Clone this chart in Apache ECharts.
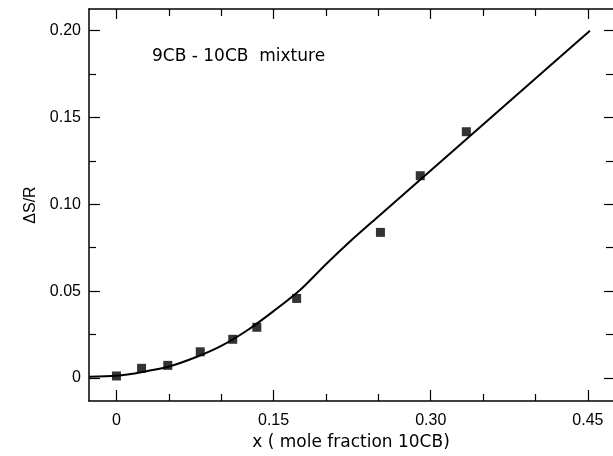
<!DOCTYPE html>
<html>
<head>
<meta charset="utf-8">
<script src="https://cdn.jsdelivr.net/npm/echarts@6/dist/echarts.min.js"></script>
<style>
html,body{margin:0;padding:0;background:#fff;}
#chart{width:613px;height:456px;}
</style>
</head>
<body>
<div id="chart"></div>
<script>
// ---- data ----
const pointX = [0, 0.024, 0.049, 0.080, 0.111, 0.134, 0.172, 0.252, 0.290, 0.334];
const pointY = [0.0012, 0.0056, 0.0073, 0.0151, 0.0223, 0.0292, 0.0458, 0.0838, 0.1164, 0.1417];
const curveX = [-0.026, 0, 0.025, 0.05, 0.075, 0.10, 0.125, 0.15, 0.175, 0.20, 0.225, 0.25, 0.275, 0.30, 0.325, 0.35, 0.375, 0.40, 0.425, 0.452];
const curveY = [0.0008, 0.0013, 0.0035, 0.0066, 0.0118, 0.0185, 0.0275, 0.0385, 0.0505, 0.0655, 0.0797, 0.093, 0.1062, 0.1194, 0.1326, 0.1459, 0.1591, 0.1723, 0.1855, 0.1998];
const xMajorTicks = [0, 0.15, 0.30, 0.45];
const xTickLabels = ['0', '0.15', '0.30', '0.45'];
const xMinorTicks = [0.05, 0.10, 0.20, 0.25, 0.35, 0.40];
const yMajorTicks = [0, 0.05, 0.10, 0.15, 0.20];
const yTickLabels = ['0', '0.05', '0.10', '0.15', '0.20'];
const yMinorTicks = [0.025, 0.075, 0.125, 0.175];
const xTitle = 'x ( mole fraction 10CB)';
const yTitle = 'ΔS/R';
const annotation = '9CB - 10CB  mixture';

const X_MIN = -0.0262, X_MAX = 0.474;
const Y_MIN = -0.0132, Y_MAX = 0.2123;
const FONT = 'Liberation Sans';
const FONT2 = 'DejaVu Sans';

function xAx(pos, ticks, len, show, extra) {
  return Object.assign({
    type: 'value', position: pos, min: X_MIN, max: X_MAX,
    axisLine: {show: show, onZero: false, lineStyle: {color: '#000', width: 1.5}},
    splitLine: {show: false},
    axisTick: {show: true, inside: true, length: len, customValues: ticks, lineStyle: {color: '#000', width: 1.2}},
    axisLabel: {show: false}
  }, extra || {});
}
function yAx(pos, ticks, len, show, extra) {
  return Object.assign({
    type: 'value', position: pos, min: Y_MIN, max: Y_MAX,
    axisLine: {show: show, onZero: false, lineStyle: {color: '#000', width: 1.5}},
    splitLine: {show: false},
    axisTick: {show: true, inside: true, length: len, customValues: ticks, lineStyle: {color: '#000', width: 1.2}},
    axisLabel: {show: false}
  }, extra || {});
}

const chart = echarts.init(document.getElementById('chart'));
chart.setOption({
  animation: false,
  backgroundColor: '#fff',
  textStyle: {fontFamily: FONT},
  grid: {left: 89, top: 9, right: 0, bottom: 55},
  xAxis: [
    xAx('bottom', xMajorTicks, 11, true, {
      name: xTitle, nameLocation: 'middle', nameGap: 32,
      nameTextStyle: {fontSize: 17, color: '#000', fontFamily: FONT2},
      axisLabel: {show: true, customValues: xMajorTicks, margin: 12, fontSize: 16, color: '#000', fontFamily: FONT,
        formatter: v => xTickLabels[xMajorTicks.findIndex(t => Math.abs(t - v) < 1e-9)]}
    }),
    xAx('bottom', xMinorTicks, 7, false),
    xAx('top', xMajorTicks, 10, true),
    xAx('top', xMinorTicks, 7, false)
  ],
  yAxis: [
    yAx('left', yMajorTicks, 11, true, {
      name: yTitle, nameLocation: 'middle', nameGap: 28, nameRotate: 90,
      nameTextStyle: {fontSize: 16, color: '#000', fontFamily: FONT},
      axisLabel: {show: true, customValues: yMajorTicks, margin: 8, fontSize: 16, color: '#000', fontFamily: FONT,
        formatter: v => yTickLabels[yMajorTicks.findIndex(t => Math.abs(t - v) < 1e-9)]}
    }),
    yAx('left', yMinorTicks, 7, false),
    yAx('right', yMajorTicks, 9, false),
    yAx('right', yMinorTicks, 7, false)
  ],
  graphic: [{
    type: 'text', left: 152, top: 48,
    style: {text: annotation, fontSize: 17, fill: '#000', fontFamily: FONT2}
  }],
  series: [
    {
      type: 'line', xAxisIndex: 0, yAxisIndex: 0,
      data: curveX.map((x, i) => [x, curveY[i]]),
      smooth: 0.3, showSymbol: false, symbol: 'none',
      lineStyle: {color: '#000', width: 2}
    },
    {
      type: 'scatter', xAxisIndex: 0, yAxisIndex: 0,
      data: pointX.map((x, i) => [x, pointY[i]]),
      symbol: 'rect', symbolSize: 9,
      itemStyle: {color: '#000'}
    }
  ]
});
</script>
</body>
</html>
